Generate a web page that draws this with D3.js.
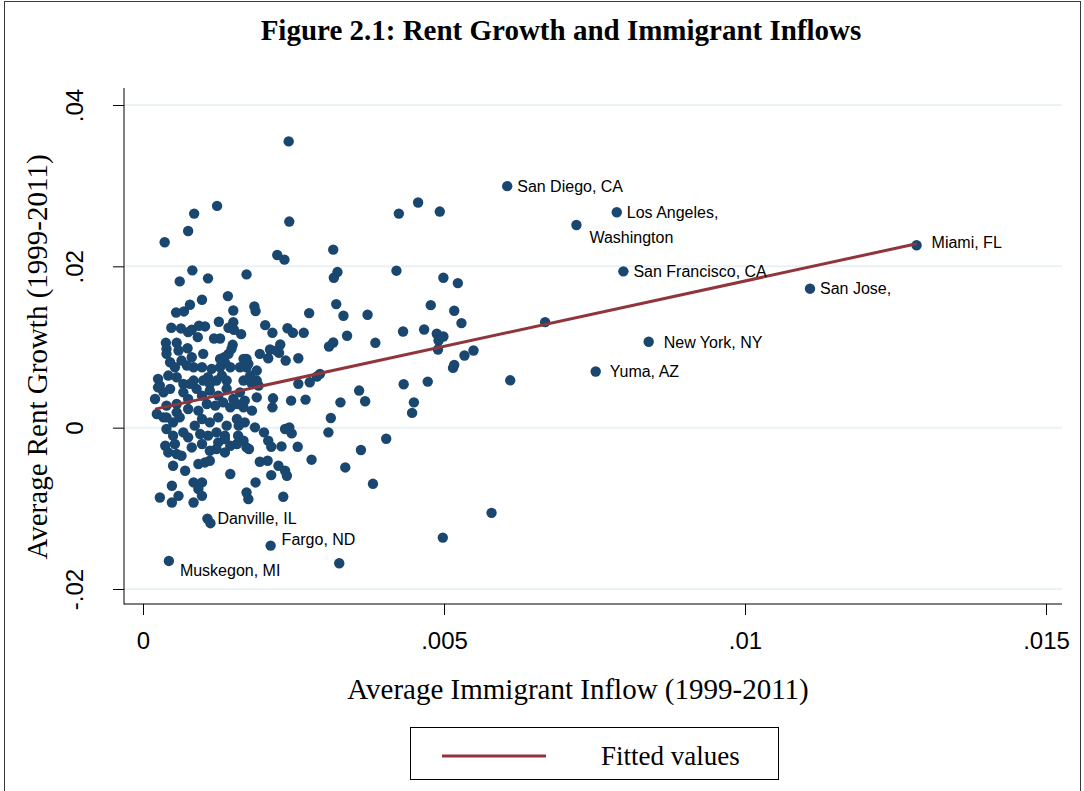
<!DOCTYPE html>
<html>
<head>
<meta charset="utf-8">
<script src="https://cdn.jsdelivr.net/npm/d3@7"></script>
<style>
  html, body { margin: 0; padding: 0; background: #fff; }
  svg { display: block; }
</style>
</head>
<body>
<svg id="chart" width="1084" height="791"></svg>
<script>
// Labelled metro areas come first in the inflow / rentGrowth arrays.
const msaNames = [
  "San Diego, CA", "Los Angeles,", "Washington", "San Francisco, CA", "Miami, FL",
  "San Jose,", "New York, NY", "Yuma, AZ", "Danville, IL", "Fargo, ND", "Muskegon, MI"
];

// Average immigrant inflow, 1999-2011
const inflow = [
  0.00605, 0.00787, 0.0072, 0.00798, 0.01285, 0.01108, 0.0084, 0.00752, 0.00107, 0.00212, 0.00043,
  0.00242, 0.00123, 0.00085, 0.00075, 0.00036, 0.00243, 0.00223, 0.00235, 0.00316, 0.00082,
  0.00061, 0.00108, 0.00172, 0.00323, 0.00317, 0.00141, 0.00098, 0.00078, 0.00055, 0.00068,
  0.0015, 0.00185, 0.00187, 0.00276, 0.00321, 0.00333, 0.00373, 0.00047, 0.00063, 0.00075,
  0.00081, 0.00093, 0.00103, 0.00091, 0.00126, 0.0015, 0.00142, 0.00151, 0.00163, 0.00203,
  0.00215, 0.0024, 0.00249, 0.00267, 0.00339, 0.00386, 0.00316, 0.00309, 0.00038, 0.00056,
  0.00074, 0.00118, 0.00128, 0.00149, 0.00211, 0.00228, 0.00222, 0.00226, 0.00208, 0.00237,
  0.00258, 0.00172, 0.00172, 0.00189, 0.00178, 0.00181, 0.00192, 0.00258, 0.00277, 0.00289,
  0.00294, 0.00359, 0.00369, 0.00432, 0.00467, 0.00488, 0.00499, 0.00491, 0.0049, 0.00534,
  0.00549, 0.00517, 0.00515, 0.00433, 0.00473, 0.0061, 0.0045, 0.00447, 0.00404, 0.00362,
  0.00382, 0.00579, 0.00498, 0.00457, 0.00425, 0.00493, 0.00421, 0.00499, 0.00523, 0.00478,
  0.00517, 0.00529, 0.00668, 0.00112, 0.00326, 0.00039, 0.00059, 0.00081, 0.00147, 0.00142,
  0.00135, 0.00136, 0.00167, 0.00175, 0.00045, 0.00053, 0.00064, 0.00073, 0.00084, 0.00098,
  0.00114, 0.00128, 0.00145, 0.00161, 0.00025, 0.00028, 0.00042, 0.00056, 0.00067, 0.00084,
  0.00108, 0.00111, 0.00131, 0.00139, 0.00167, 0.00039, 0.001, 0.00128, 0.00194, 0.00078,
  0.001, 0.00122, 0.00139, 0.00189, 0.0002, 0.00034, 0.00045, 0.00025, 0.00023, 0.00034,
  0.00067, 0.00075, 0.00089, 0.00098, 0.00111, 0.00125, 0.0015, 0.00161, 0.00169, 0.00056,
  0.00061, 0.00075, 0.00092, 0.00106, 0.0012, 0.00133, 0.00145, 0.00156, 0.00167, 0.00039,
  0.0005, 0.00067, 0.00086, 0.00098, 0.00111, 0.00125, 0.00139, 0.00156, 0.00169, 0.0005,
  0.00075, 0.00095, 0.00108, 0.00122, 0.00136, 0.00158, 0.00167, 0.00037, 0.00053, 0.00042,
  0.00056, 0.00064, 0.00081, 0.00098, 0.00111, 0.00125, 0.00136, 0.00145, 0.00156, 0.00172,
  0.00122, 0.00136, 0.0005, 0.0007, 0.00092, 0.00103, 0.00111, 0.00145, 0.00048, 0.00084,
  0.00098, 0.00092, 0.00098, 0.00059, 0.00048, 0.00028, 0.00084, 0.00172, 0.00189, 0.00216,
  0.00215, 0.00181, 0.00246, 0.0027, 0.00328, 0.00312, 0.00308, 0.00186, 0.00236, 0.00243,
  0.00247, 0.00201, 0.00208, 0.00213, 0.0023, 0.00257, 0.00176, 0.0028, 0.00336, 0.00194,
  0.00207, 0.00225, 0.00236, 0.00239, 0.00213, 0.00187, 0.00175, 0.00233, 0.00159, 0.00039,
  0.00056, 0.00039
];

// Average rent growth, 1999-2011
const rentGrowth = [
  0.02994, 0.02671, 0.02513, 0.01938, 0.02261, 0.01723, 0.01065, 0.00696, -0.01127, -0.01462, -0.01652,
  0.03549, 0.02749, 0.02654, 0.02438, 0.02298, 0.02555, 0.0214, 0.02083, 0.02207, 0.0195,
  0.01813, 0.01851, 0.019, 0.01929, 0.01859, 0.01631, 0.01586, 0.01524, 0.01428, 0.01441,
  0.01453, 0.01503, 0.01445, 0.0142, 0.01532, 0.01387, 0.014, 0.01238, 0.0123, 0.01184,
  0.01214, 0.01263, 0.01255, 0.01122, 0.01313, 0.01308, 0.01238, 0.01214, 0.01159, 0.01271,
  0.01176, 0.01233, 0.01176, 0.01176, 0.01139, 0.01052, 0.01056, 0.01006, 0.01052, 0.01052,
  0.00985, 0.01105, 0.01105, 0.01027, 0.00969, 0.01031, 0.00956, 0.00928, 0.00861, 0.00832,
  0.00861, 0.00853, 0.00749, 0.00708, 0.00646, 0.00543, 0.00522, 0.00543, 0.00563, 0.00634,
  0.00667, 0.0046, 0.00327, 0.01192, 0.01217, 0.01164, 0.0113, 0.0108, 0.00969, 0.00894,
  0.00956, 0.00779, 0.00741, 0.00538, 0.00571, 0.00587, 0.00314, 0.00183, -0.00137, -0.00277,
  -0.00696, -0.01056, -0.01363, 0.02791, 0.02654, 0.02679, 0.01946, 0.01859, 0.01792, 0.01519,
  0.0145, 0.01296, 0.01308, -0.01184, -0.01681, 0.00977, 0.00956, 0.00873, 0.00977, 0.00915,
  0.00873, 0.00811, 0.00853, 0.00791, 0.00811, 0.00749, 0.00832, 0.0077, 0.00749, 0.00749,
  0.00729, 0.00749, 0.00749, 0.00749, 0.00605, 0.00522, 0.00646, 0.00625, 0.00543, 0.00584,
  0.00625, 0.00543, 0.00646, 0.00481, 0.00584, 0.00915, 0.00915, 0.00853, 0.00915, 0.00543,
  0.00584, 0.00584, 0.00584, 0.00584, 0.00356, 0.00438, 0.00481, 0.005, 0.0017, 0.00128,
  0.00438, 0.00356, 0.00481, 0.00397, 0.0046, 0.00397, 0.00356, 0.00438, 0.00335, 0.0019,
  0.00128, 0.00232, 0.00211, 0.00294, 0.00273, 0.00314, 0.00252, 0.00294, 0.00252, -0.00016,
  0.00066, -0.00058, 0.00025, 0.00108, 0.00066, 0.00128, 0.00025, 0.00108, 0.00066, -0.00099,
  -0.0012, -0.00078, -0.00099, -0.00058, -0.00099, -0.00099, -0.00161, -0.00224, -0.00203, -0.00307,
  -0.00327, -0.00348, -0.00245, -0.00203, -0.00286, -0.00183, -0.0014, -0.00224, -0.00203, -0.00245,
  -0.00265, -0.00307, -0.00472, -0.00534, -0.00451, -0.00431, -0.0041, -0.00575, -0.0072, -0.00679,
  -0.00679, -0.00761, -0.00845, -0.00845, -0.00928, -0.00866, -0.00928, -0.00804, 0.00376, 0.00364,
  0.00252, 0.00211, 0.00335, 0.00348, 0.00314, 0.0012, -0.00058, 0.00004, -0.00016, 0.00004,
  -0.00071, -0.00058, -0.00161, -0.00236, -0.00232, -0.00236, -0.00265, -0.00397, -0.00493, -0.00422,
  -0.0041, -0.00472, -0.00534, -0.00596, -0.00588, -0.00679, -0.00886, -0.00857, 0.00025, 0.00273,
  0.00294, 0.00128
];

// Linear fit endpoints (fitted values at the smallest and largest inflow)
const fittedInflow = [0.0002, 0.01285];
const fittedRent = [0.0023, 0.0228];

const xTickValues = [0, 0.005, 0.01, 0.015];
const xTickLabels = ["0", ".005", ".01", ".015"];
const yTickValues = [-0.02, 0, 0.02, 0.04];
const yTickLabels = ["-.02", "0", ".02", ".04"];

const titleText = "Figure 2.1: Rent Growth and Immigrant Inflows";
const xTitle = "Average Immigrant Inflow (1999-2011)";
const yTitle = "Average Rent Growth (1999-2011)";
const legendText = "Fitted values";

// ---- styling ----
const SERIF = "'Liberation Serif', 'Times New Roman', Times, serif";
const SANS = "'Liberation Sans', Arial, Helvetica, sans-serif";
const MARKER = "#1a476f";
const FIT = "#90353b";
const GRID = "#eaf2f3";

const plot = { left: 124, right: 1062, top: 88, bottom: 604 };

const svg = d3.select("#chart");
svg.append("rect").attr("width", 1084).attr("height", 791).attr("fill", "#fff");

// outer graph frame
svg.append("rect")
  .attr("x", 4.5).attr("y", 1.5)
  .attr("width", 1076).attr("height", 900)
  .attr("fill", "none").attr("stroke", "#3c3c3c").attr("stroke-width", 1);

const x = d3.scaleLinear().domain([0, 0.015]).range([143, 1046]);
const y = d3.scaleLinear().domain([-0.02, 0.04]).range([589, 105]);

// horizontal grid lines
svg.append("g").selectAll("line").data(yTickValues).join("line")
  .attr("x1", plot.left + 1).attr("x2", plot.right)
  .attr("y1", d => y(d)).attr("y2", d => y(d))
  .attr("stroke", GRID).attr("stroke-width", 2);

// x axis
const xAxis = svg.append("g")
  .attr("transform", `translate(0,${plot.bottom})`)
  .call(d3.axisBottom(x).tickValues(xTickValues)
    .tickFormat((d, i) => xTickLabels[i]).tickSize(11).tickSizeOuter(0).tickPadding(17));
xAxis.select(".domain").remove();
xAxis.selectAll(".tick line").attr("stroke", "#000");
xAxis.selectAll(".tick text").attr("font-family", SANS).attr("font-size", 24).attr("fill", "#000");

// y axis with vertical tick labels
const yAxis = svg.append("g")
  .attr("transform", `translate(${plot.left},0)`)
  .call(d3.axisLeft(y).tickValues(yTickValues)
    .tickFormat((d, i) => yTickLabels[i]).tickSize(11).tickSizeOuter(0));
yAxis.select(".domain").remove();
yAxis.selectAll(".tick line").attr("stroke", "#000");
yAxis.selectAll(".tick text")
  .attr("font-family", SANS).attr("font-size", 24).attr("fill", "#000")
  .attr("x", null).attr("dy", null).attr("y", null)
  .attr("text-anchor", "middle")
  .attr("transform", "translate(-41,0) rotate(-90)");

// axis lines spanning the plot region
svg.append("line").attr("x1", plot.left).attr("x2", plot.left)
  .attr("y1", plot.top).attr("y2", plot.bottom + 0.5)
  .attr("stroke", "#000").attr("stroke-width", 1);
svg.append("line").attr("x1", plot.left).attr("x2", plot.right)
  .attr("y1", plot.bottom).attr("y2", plot.bottom)
  .attr("stroke", "#000").attr("stroke-width", 1);

// scatter points
const points = inflow.map((v, i) => ({ x: v, y: rentGrowth[i], name: msaNames[i] || "" }));
svg.append("g").selectAll("circle").data(points).join("circle")
  .attr("cx", d => x(d.x)).attr("cy", d => y(d.y)).attr("r", 5.2)
  .attr("fill", MARKER);

// fitted line
const fitPts = fittedInflow.map((v, i) => [v, fittedRent[i]]);
svg.append("path")
  .attr("d", d3.line().x(d => x(d[0])).y(d => y(d[1]))(fitPts))
  .attr("fill", "none").attr("stroke", FIT).attr("stroke-width", 3);

// marker labels (default: to the right of the marker)
const labelShift = {
  "Washington": [13, 12],
  "Muskegon, MI": [11, 9],
  "Miami, FL": [15, -3],
  "Fargo, ND": [11, -6],
  "New York, NY": [15, 0],
  "Yuma, AZ": [14, 0]
};
svg.append("g").selectAll("text").data(points.filter(p => p.name)).join("text")
  .attr("x", d => x(d.x) + (labelShift[d.name] ? labelShift[d.name][0] : 10))
  .attr("y", d => y(d.y) + (labelShift[d.name] ? labelShift[d.name][1] : 0))
  .attr("dy", "0.36em")
  .attr("font-family", SANS).attr("font-size", 16).attr("fill", "#000")
  .text(d => d.name);

// titles
svg.append("text").attr("x", 561).attr("y", 40)
  .attr("text-anchor", "middle").attr("font-family", SERIF)
  .attr("font-weight", "bold").attr("font-size", 29).attr("fill", "#000")
  .text(titleText);

svg.append("text").attr("x", 578).attr("y", 699)
  .attr("text-anchor", "middle").attr("font-family", SERIF)
  .attr("font-size", 29).attr("fill", "#000")
  .text(xTitle);

svg.append("text")
  .attr("transform", "translate(47,357) rotate(-90)")
  .attr("text-anchor", "middle").attr("font-family", SERIF)
  .attr("font-size", 29).attr("fill", "#000")
  .text(yTitle);

// legend
const legend = svg.append("g");
legend.append("rect").attr("x", 410.5).attr("y", 727.5).attr("width", 368).attr("height", 52)
  .attr("fill", "#fff").attr("stroke", "#000").attr("stroke-width", 1);
legend.append("line").attr("x1", 442).attr("x2", 546).attr("y1", 756).attr("y2", 756)
  .attr("stroke", FIT).attr("stroke-width", 3);
legend.append("text").attr("x", 601).attr("y", 765)
  .attr("font-family", SERIF).attr("font-size", 27).attr("fill", "#000")
  .text(legendText);
</script>
</body>
</html>
